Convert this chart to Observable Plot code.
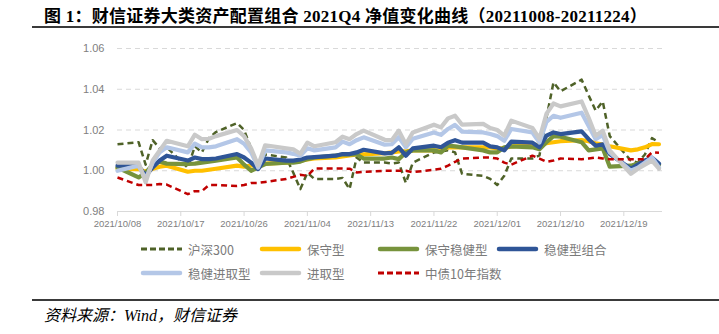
<!DOCTYPE html>
<html>
<head>
<meta charset="utf-8">
<script src="https://cdn.jsdelivr.net/npm/d3@7"></script>
<script src="https://cdn.jsdelivr.net/npm/@observablehq/plot@0.6"></script>
<style>
  html, body { margin: 0; padding: 0; background: #fff; }
  #page { position: relative; width: 719px; height: 334px; overflow: hidden; background: #fff; }
  #title { position: absolute; left: 44px; top: 2px; font-family: "Liberation Serif", "Noto Sans CJK SC", serif; font-weight: bold; font-size: 17px; letter-spacing: 0.25px; color: #000; white-space: nowrap; }
  .rule { position: absolute; left: 32px; width: 687px; height: 2px; background: #3a3a3a; }
  #chart { position: absolute; left: 0; top: 30px; }
  .leg { position: absolute; display: flex; align-items: center; font-family: "Noto Sans CJK SC", sans-serif; font-size: 12.5px; color: #7a7a7a; white-space: nowrap; }
  .leg svg { margin-right: 5px; }
  #foot { position: absolute; left: 44px; top: 302px; font-family: "Liberation Serif", "Noto Sans CJK SC", serif; font-style: italic; font-size: 16px; color: #000; white-space: nowrap; }
</style>
</head>
<body>
<div id="page">
  <div id="title">图 1：财信证券大类资产配置组合 2021Q4 净值变化曲线（20211008-20211224）</div>
  <div class="rule" style="top:26px"></div>
  <div id="chart"></div>
  <div id="legend"></div>
  <div class="rule" style="top:299px"></div>
  <div id="foot">资料来源：Wind，财信证券</div>
</div>
<script>
const dates = ["2021-10-08","2021-10-11","2021-10-12","2021-10-13","2021-10-14","2021-10-15",
"2021-10-18","2021-10-19","2021-10-20","2021-10-21","2021-10-22",
"2021-10-25","2021-10-26","2021-10-27","2021-10-28","2021-10-29",
"2021-11-01","2021-11-02","2021-11-03","2021-11-04","2021-11-05",
"2021-11-08","2021-11-09","2021-11-10","2021-11-11","2021-11-12",
"2021-11-15","2021-11-16","2021-11-17","2021-11-18","2021-11-19",
"2021-11-22","2021-11-23","2021-11-24","2021-11-25","2021-11-26",
"2021-11-29","2021-11-30","2021-12-01","2021-12-02","2021-12-03",
"2021-12-06","2021-12-07","2021-12-08","2021-12-09","2021-12-10",
"2021-12-13","2021-12-14","2021-12-15","2021-12-16","2021-12-17",
"2021-12-20","2021-12-21","2021-12-22","2021-12-23","2021-12-24"];

const hs300 = [1.013,1.014,1.003,1.015,1.011,1.0115,
1.0015,1.012,1.009,1.016,1.019,
1.0234,1.020,1.011,1.001,1.008,
1.0065,0.999,0.991,0.999,0.996,
0.996,0.9965,0.991,1.0065,1.004,
1.004,1.0035,1.004,0.994,1.004,
1.009,1.0095,1.010,1.009,0.9985,
0.9975,0.996,0.993,0.9975,1.006,
1.006,1.0075,1.026,1.0434,1.039,
1.0447,1.037,1.0295,1.034,1.017,
1.005,1.004,1.008,1.016,1.014];

const baoshou = [1.0008,1.0008,0.9995,1.001,1.002,1.0025,
0.9995,1.000,1.000,1.0005,1.001,
1.0025,1.002,1.0025,1.003,1.0035,
1.004,1.0045,1.005,1.0055,1.006,
1.0065,1.007,1.0075,1.008,1.008,
1.0086,1.009,1.0095,1.0095,1.010,
1.010,1.010,1.0115,1.0115,1.0115,
1.0115,1.0115,1.011,1.011,1.012,
1.0125,1.0128,1.0135,1.014,1.0145,
1.015,1.0145,1.0135,1.0128,1.012,
1.010,1.0105,1.0115,1.0131,1.013];

const baoshouWenjian = [1.0016,0.9967,0.999,1.003,1.0045,1.0035,
1.0033,1.0035,1.004,1.0045,1.005,
1.0065,1.003,1.000,1.0016,1.0033,
1.004,1.004,1.0045,1.0057,1.0065,
1.0074,1.008,1.008,1.008,1.006,
1.006,1.0065,1.0057,1.009,1.010,
1.010,1.009,1.0123,1.012,1.0115,
1.010,1.009,1.009,1.0115,1.012,
1.0115,1.0105,1.014,1.017,1.0167,
1.014,1.010,1.0105,1.011,1.002,
1.0025,1.0035,1.0045,1.005,1.003];

const wenjian = [1.0025,1.0025,0.9975,1.0016,1.005,1.0074,
1.005,1.0065,1.0057,1.0057,1.006,
1.0082,1.0065,1.004,1.0008,1.006,
1.005,1.005,1.0055,1.0065,1.0067,
1.0074,1.0082,1.0082,1.009,1.0103,
1.0085,1.0088,1.0115,1.0074,1.011,
1.0123,1.0115,1.0138,1.015,1.0138,
1.0138,1.012,1.0115,1.010,1.0143,
1.0138,1.0115,1.0172,1.0188,1.018,
1.0193,1.0155,1.0123,1.013,1.0082,
1.001,1.003,1.005,1.0064,1.0035];

const wenjianJinqu = [1.000,1.0025,0.996,1.004,1.009,1.0115,
1.009,1.0133,1.0115,1.0115,1.012,
1.0155,1.0133,1.009,1.0016,1.010,
1.009,1.0083,1.0074,1.011,1.010,
1.0115,1.0143,1.013,1.015,1.0164,
1.0128,1.013,1.0164,1.0115,1.0157,
1.0188,1.0176,1.0205,1.0225,1.0192,
1.0188,1.018,1.017,1.0147,1.0205,
1.0188,1.0138,1.024,1.027,1.026,
1.0285,1.022,1.0155,1.0176,1.009,
1.000,1.0015,1.004,1.0065,1.0016];

const jinqu = [1.004,1.004,0.9943,1.005,1.010,1.0147,
1.012,1.0177,1.0155,1.0157,1.017,
1.020,1.017,1.011,1.0025,1.0125,
1.011,1.0105,1.0083,1.0138,1.012,
1.014,1.0167,1.0155,1.018,1.0197,
1.0152,1.015,1.0197,1.013,1.0188,
1.0226,1.0213,1.0257,1.027,1.0226,
1.023,1.021,1.020,1.0172,1.0246,
1.021,1.0157,1.028,1.033,1.0316,
1.034,1.026,1.0172,1.0197,1.010,
0.9985,1.001,1.003,1.005,1.001];

const zhongzhai = [0.9967,0.993,0.993,0.993,0.9935,0.9932,
0.9885,0.990,0.990,0.993,0.993,
0.9925,0.993,0.994,0.994,0.9945,
0.996,0.997,0.998,0.9975,1.0011,
1.0011,1.0011,1.001,0.9992,0.9995,
1.000,1.000,1.000,1.000,0.9993,
1.0005,1.001,1.0025,1.0044,1.006,
1.0065,1.0065,1.006,1.004,1.003,
1.0074,1.006,1.0044,1.005,1.006,
1.0057,1.006,1.0065,1.006,1.0057,
1.0057,1.0057,1.0057,1.009,1.0088];

const seriesNames = ["沪深300","保守型","保守稳健型","稳健型组合","稳健进取型","进取型","中债10年指数"];
const seriesValues = [hs300, baoshou, baoshouWenjian, wenjian, wenjianJinqu, jinqu, zhongzhai];
const seriesColors = ["#4f6228","#ffc000","#77933c","#2f5597","#b4c7e7","#c9c9c9","#c00000"];
const seriesDashed = [true,false,false,false,false,false,true];

const yTicks = [0.98, 1.00, 1.02, 1.04, 1.06];
const xTickLabels = ["2021/10/08","2021/10/17","2021/10/26","2021/11/04","2021/11/13","2021/11/22","2021/12/01","2021/12/10","2021/12/19"];

const parse = s => new Date(s.replace(/\//g, "-") + "T00:00:00Z");
const xTicks = xTickLabels.map(parse);
const fmt = d3.utcFormat("%Y/%m/%d");

const lineMarks = seriesNames.map((name, i) => {
  const data = dates.map((d, j) => ({date: parse(d), value: seriesValues[i][j]}));
  return Plot.line(data, {
    x: "date", y: "value",
    stroke: seriesColors[i],
    strokeWidth: seriesDashed[i] ? 2.5 : 4.2,
    strokeDasharray: seriesDashed[i] ? "6,4" : null,
    strokeLinejoin: "round",
    strokeLinecap: seriesDashed[i] ? "butt" : "round"
  });
});

const chart = Plot.plot({
  width: 719,
  height: 205,
  marginTop: 18,
  marginBottom: 24,
  marginLeft: 117,
  marginRight: 57,
  style: {fontFamily: "'Liberation Sans', 'Noto Sans', sans-serif", background: "transparent"},
  x: {type: "utc", domain: [parse("2021/10/08"), new Date("2021-12-24T12:00:00Z")]},
  y: {domain: [0.98, 1.06]},
  marks: [
    Plot.ruleY(yTicks.slice(1), {stroke: "#d9d9d9", strokeWidth: 1, strokeDasharray: "5,4"}),
    Plot.ruleY([0.98], {stroke: "#d9d9d9", strokeWidth: 1}),
    Plot.axisY({ticks: yTicks, tickSize: 0, tickPadding: 13, tickFormat: d => d.toFixed(2), fontSize: 11, fill: "#808080", label: null}),
    Plot.axisX({ticks: xTicks, tickSize: 5, stroke: "#d9d9d9", tickPadding: 4, tickFormat: fmt, fontSize: 9.5, fill: "#808080", label: null}),
    ...lineMarks
  ]
});
document.getElementById("chart").appendChild(chart);

// Legend
const legendPos = [
  {x: 140, y: 249}, {x: 259, y: 249}, {x: 377, y: 249}, {x: 496, y: 249},
  {x: 140, y: 273}, {x: 259, y: 273}, {x: 377, y: 273}
];
const legend = document.getElementById("legend");
seriesNames.forEach((name, i) => {
  const div = document.createElement("div");
  div.className = "leg";
  div.style.left = legendPos[i].x + "px";
  div.style.top = (legendPos[i].y - 9) + "px";
  div.style.height = "18px";
  const dashed = seriesDashed[i];
  div.innerHTML = `<svg width="43" height="8"><line x1="${dashed ? 1 : 3}" y1="4" x2="${dashed ? 42 : 40}" y2="4" stroke="${seriesColors[i]}" stroke-width="${dashed ? 3 : 4.5}" stroke-linecap="${dashed ? "butt" : "round"}" ${dashed ? 'stroke-dasharray="6,3"' : ""}/></svg><span>${name}</span>`;
  legend.appendChild(div);
});
</script>
</body>
</html>
